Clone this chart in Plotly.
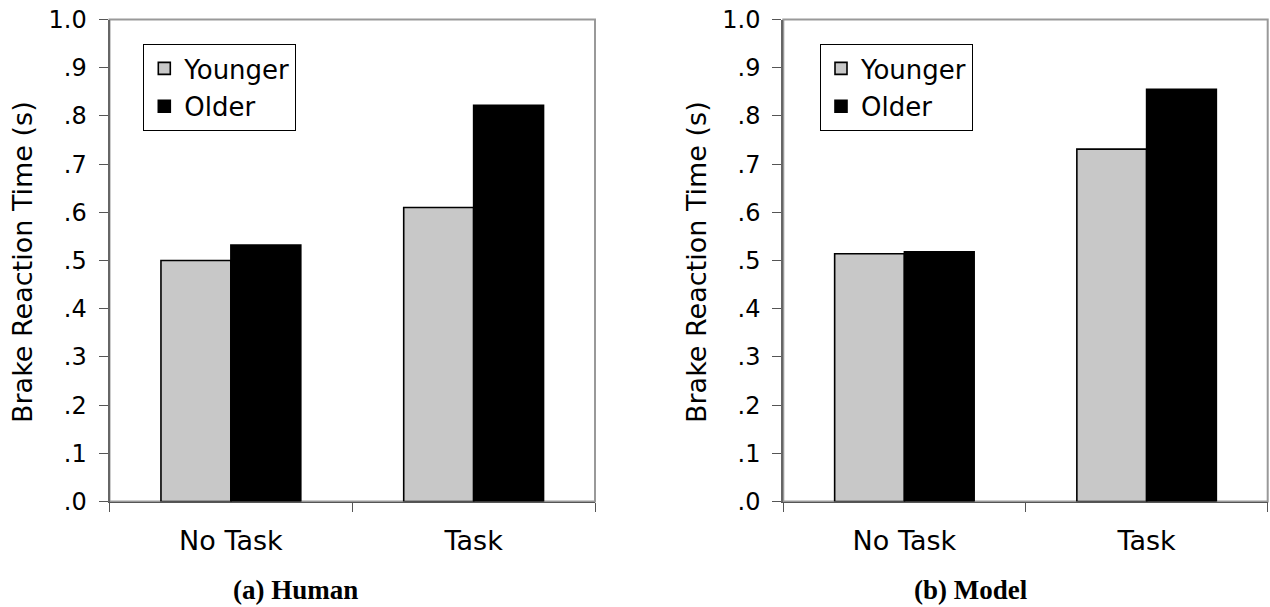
import plotly.graph_objects as go

categories = ["No Task", "Task"]
human_younger = [0.500, 0.610]
human_older = [0.532, 0.822]
model_younger = [0.514, 0.731]
model_older = [0.518, 0.855]
series_names = ["Younger", "Older"]
ytick_vals = [0.0, 0.1, 0.2, 0.3, 0.4, 0.5, 0.6, 0.7, 0.8, 0.9, 1.0]
ytick_text = [".0", ".1", ".2", ".3", ".4", ".5", ".6", ".7", ".8", ".9", "1.0"]
y_title = "Brake Reaction Time (s)"
panel_titles = ["(a) Human", "(b) Model"]

# the page body margin is removed (post_script below) so the figure fills the window
W, H = 1270, 607
YOUNG_COLOR = "#C8C8C8"
OLD_COLOR = "#000000"
FONT = "DejaVu Sans, Verdana, sans-serif"


def px_x(v):
    return v / W


def px_y(v):
    return 1 - v / H


fig = go.Figure()

panels = [
    (human_younger, human_older, "x", "y", "legend"),
    (model_younger, model_older, "x2", "y2", "legend2"),
]
for young, old, xa, ya, lg in panels:
    fig.add_trace(go.Bar(
        x=categories, y=young, name=series_names[0], xaxis=xa, yaxis=ya,
        marker=dict(color=YOUNG_COLOR, line=dict(color="black", width=1.6)),
        legend=lg, legendgroup=lg + "y", showlegend=True,
    ))
    fig.add_trace(go.Bar(
        x=categories, y=old, name=series_names[1], xaxis=xa, yaxis=ya,
        marker=dict(color=OLD_COLOR, line=dict(color="black", width=1.6)),
        legend=lg, legendgroup=lg + "o", showlegend=True,
    ))

# pixel geometry (reference window pixels)
y_top, y_bot = 19.5, 501.5
left_dom = [px_x(109.5), px_x(595)]
right_dom = [px_x(783.3), px_x(1267.7)]
y_dom = [px_y(y_bot), px_y(y_top)]

axis_common_x = dict(
    type="category", range=[-0.5, 1.5], showgrid=False, zeroline=False,
    showline=True, linecolor="#555555", linewidth=1.5,
    ticks="outside", tickson="boundaries", ticklen=9, tickwidth=1, tickcolor="#555555",
    tickfont=dict(family=FONT, size=27, color="black"),
    ticklabelstandoff=15, ticklabeloverflow="allow",
    fixedrange=True, automargin=False,
)
axis_common_y = dict(
    range=[0, 1.0], showgrid=False, zeroline=False,
    showline=True, linecolor="#666666", linewidth=2,
    ticks="outside", ticklen=9, tickwidth=1, tickcolor="#555555",
    tickvals=ytick_vals, ticktext=ytick_text,
    tickfont=dict(family=FONT, size=24, color="black"),
    ticklabelstandoff=7, ticklabeloverflow="allow",
    fixedrange=True, automargin=False,
)

legend_common = dict(
    bgcolor="white", bordercolor="black", borderwidth=1,
    font=dict(family=FONT, size=26, color="black"),
    xanchor="left", yanchor="top", tracegroupgap=1,
    itemclick=False, itemdoubleclick=False,
)

fig.update_layout(
    width=W, height=H, autosize=False,
    margin=dict(l=0, r=0, t=0, b=0, pad=0, autoexpand=False),
    paper_bgcolor="white", plot_bgcolor="white",
    barmode="group", bargap=0.424, bargroupgap=0,
    xaxis=dict(domain=left_dom, anchor="y", **axis_common_x),
    yaxis=dict(domain=y_dom, anchor="x", **axis_common_y),
    xaxis2=dict(domain=right_dom, anchor="y2", **axis_common_x),
    yaxis2=dict(domain=y_dom, anchor="x2", **axis_common_y),
    legend=dict(x=px_x(143.3), y=px_y(44), **legend_common),
    legend2=dict(x=px_x(820), y=px_y(44), **legend_common),
    showlegend=True,
)

# plot-area frame (top/right border in gray)
for xr, yr in [("x domain", "y domain"), ("x2 domain", "y2 domain")]:
    fig.add_shape(type="rect", xref=xr, yref=yr, x0=0, x1=1, y0=0, y1=1,
                  line=dict(color="#999999", width=2), layer="below")

# y-axis titles
for xpx in [23, 697]:
    fig.add_annotation(
        text=y_title, xref="paper", yref="paper",
        x=px_x(xpx), y=px_y(262), xanchor="center", yanchor="middle",
        textangle=-90, showarrow=False,
        font=dict(family=FONT, size=27, color="black"),
    )

# panel captions
for txt, xpx in zip(panel_titles, [295, 971.5]):
    fig.add_annotation(
        text="<b>" + txt + "</b>", xref="paper", yref="paper",
        x=px_x(xpx), y=px_y(590), xanchor="center", yanchor="middle",
        showarrow=False,
        font=dict(family="Liberation Serif, Times New Roman, serif", size=27, color="black"),
    )

fig.write_html(
    "out.html",
    config=dict(displayModeBar=False, staticPlot=True),
    post_script="document.body.style.margin='0';document.body.style.overflow='hidden';",
)
